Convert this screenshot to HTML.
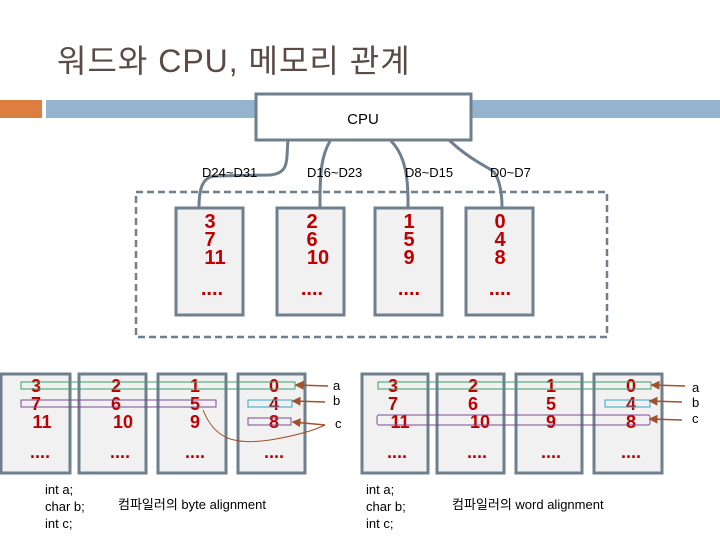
<!DOCTYPE html>
<html><head><meta charset="utf-8"><style>
html,body{margin:0;padding:0;background:#fff;width:720px;height:540px;overflow:hidden}
svg{display:block}
.n{font-family:"Liberation Sans",Arial,sans-serif;font-weight:bold;fill:#c00000;font-size:18px;text-anchor:middle}
.d{font-family:"Liberation Sans",Arial,sans-serif;font-weight:bold;fill:#c00000;font-size:20px;text-anchor:middle}
.t{font-family:"Liberation Sans","Noto Sans CJK KR",sans-serif;fill:#000;font-size:13px}
.box{fill:#f1f1f1;stroke:#6f7f8d;stroke-width:3}
</style></head><body>
<svg width="720" height="540" viewBox="0 0 720 540" xmlns="http://www.w3.org/2000/svg">
<defs><marker id="ah" markerWidth="6" markerHeight="6" refX="5" refY="3" orient="auto"><path d="M0,0 L6,3 L0,6 z" fill="#a0522d"/></marker></defs>
<text x="57" y="72" font-family="'Liberation Sans','Noto Sans CJK KR',sans-serif" font-size="32" letter-spacing="1" fill="#5b4b47">워드와 CPU, 메모리 관계</text>
<rect x="0" y="100" width="42" height="18" fill="#dd7e40"/>
<rect x="46" y="100" width="674" height="18" fill="#93b3cf"/>
<g fill="none" stroke="#6f7f8d" stroke-width="3">
<path d="M288,140 C286,160 290,173 270,175 L215,176 C200,177 199,195 199,207"/>
<path d="M330,141 C322,155 320,170 320,200 L320,207"/>
<path d="M391,141 C400,150 408,165 408,200 L408,207"/>
<path d="M449,140 C470,160 490,168 494,172 C500,180 502,195 502,207"/>
</g>
<rect x="256" y="94" width="215" height="46" fill="#fff" stroke="#6f7f8d" stroke-width="3"/>
<text x="363" y="124" font-family="'Liberation Sans',sans-serif" font-size="15" text-anchor="middle" fill="#000">CPU</text>
<g class="t" font-size="12"><text x="202" y="177">D24~D31</text><text x="307" y="177">D16~D23</text><text x="405" y="177">D8~D15</text><text x="490" y="177">D0~D7</text></g>
<rect x="136" y="192" width="471" height="145" fill="none" stroke="#6f7f8d" stroke-width="2.5" stroke-dasharray="7,4"/>
<g>
<rect class="box" x="176" y="208" width="67" height="107"/>
<rect class="box" x="277" y="208" width="67" height="107"/>
<rect class="box" x="375" y="208" width="67" height="107"/>
<rect class="box" x="466" y="208" width="67" height="107"/>
<text class="d" x="210" y="228">3</text><text class="d" x="210" y="246">7</text><text class="d" x="215" y="264">11</text><text class="d" x="212" y="295">....</text>
<text class="d" x="312" y="228">2</text><text class="d" x="312" y="246">6</text><text class="d" x="318" y="264">10</text><text class="d" x="312" y="295">....</text>
<text class="d" x="409" y="228">1</text><text class="d" x="409" y="246">5</text><text class="d" x="409" y="264">9</text><text class="d" x="409" y="295">....</text>
<text class="d" x="500" y="228">0</text><text class="d" x="500" y="246">4</text><text class="d" x="500" y="264">8</text><text class="d" x="500" y="295">....</text>
</g>
<g>
<rect class="box" x="1" y="374" width="69" height="99"/>
<rect class="box" x="79" y="374" width="67" height="99"/>
<rect class="box" x="158" y="374" width="68" height="99"/>
<rect class="box" x="238" y="374" width="67" height="99"/>
<text class="n" x="36" y="392">3</text><text class="n" x="36" y="410">7</text><text class="n" x="42" y="428">11</text><text class="n" x="40" y="458">....</text>
<text class="n" x="116" y="392">2</text><text class="n" x="116" y="410">6</text><text class="n" x="123" y="428">10</text><text class="n" x="120" y="458">....</text>
<text class="n" x="195" y="392">1</text><text class="n" x="195" y="410">5</text><text class="n" x="195" y="428">9</text><text class="n" x="195" y="458">....</text>
<text class="n" x="274" y="392">0</text><text class="n" x="274" y="410">4</text><text class="n" x="274" y="428">8</text><text class="n" x="274" y="458">....</text>
<rect x="21" y="382" width="274" height="7" fill="none" stroke="#3aa06a" stroke-width="1"/>
<rect x="21" y="400" width="195" height="7" fill="none" stroke="#7a4a90" stroke-width="1"/>
<rect x="248" y="400" width="44" height="7" fill="none" stroke="#30a8c8" stroke-width="1"/>
<rect x="248" y="418" width="43" height="7" fill="none" stroke="#7a4a90" stroke-width="1"/>
<g stroke="#a0522d" stroke-width="1.5" fill="none">
<path d="M328,386 L296,385" marker-end="url(#ah)"/>
<path d="M325,402 L293,401" marker-end="url(#ah)"/>
<path d="M325,425 L293,422" marker-end="url(#ah)"/>
<path d="M203,410 C215,440 235,445 270,440 C300,435 315,430 325,425" stroke-width="1"/>
</g>
<text class="t" x="333" y="390">a</text><text class="t" x="333" y="405">b</text><text class="t" x="335" y="428">c</text>
<text class="t" x="45" y="494">int a;</text><text class="t" x="45" y="511">char b;</text><text class="t" x="45" y="528">int c;</text>
<text class="t" x="118" y="509">컴파일러의 byte alignment</text>
</g>
<g>
<rect class="box" x="362" y="374" width="66" height="99"/>
<rect class="box" x="437" y="374" width="67" height="99"/>
<rect class="box" x="516" y="374" width="66" height="99"/>
<rect class="box" x="594" y="374" width="68" height="99"/>
<text class="n" x="393" y="392">3</text><text class="n" x="393" y="410">7</text><text class="n" x="400" y="428">11</text><text class="n" x="397" y="458">....</text>
<text class="n" x="473" y="392">2</text><text class="n" x="473" y="410">6</text><text class="n" x="480" y="428">10</text><text class="n" x="477" y="458">....</text>
<text class="n" x="551" y="392">1</text><text class="n" x="551" y="410">5</text><text class="n" x="551" y="428">9</text><text class="n" x="551" y="458">....</text>
<text class="n" x="631" y="392">0</text><text class="n" x="631" y="410">4</text><text class="n" x="631" y="428">8</text><text class="n" x="631" y="458">....</text>
<rect x="378" y="382" width="273" height="7" fill="none" stroke="#3aa06a" stroke-width="1"/>
<rect x="605" y="400" width="45" height="7" fill="none" stroke="#30a8c8" stroke-width="1"/>
<rect x="377" y="415" width="273" height="10" rx="2" fill="none" stroke="#7a4a90" stroke-width="1"/>
<g stroke="#a0522d" stroke-width="1.5" fill="none">
<path d="M685,386 L652,385" marker-end="url(#ah)"/>
<path d="M682,402 L650,401" marker-end="url(#ah)"/>
<path d="M682,420 L650,419" marker-end="url(#ah)"/>
</g>
<text class="t" x="692" y="392">a</text><text class="t" x="692" y="407">b</text><text class="t" x="692" y="423">c</text>
<text class="t" x="366" y="494">int a;</text><text class="t" x="366" y="511">char b;</text><text class="t" x="366" y="528">int c;</text>
<text class="t" x="452" y="509">컴파일러의 word alignment</text>
</g>
</svg>
</body></html>
